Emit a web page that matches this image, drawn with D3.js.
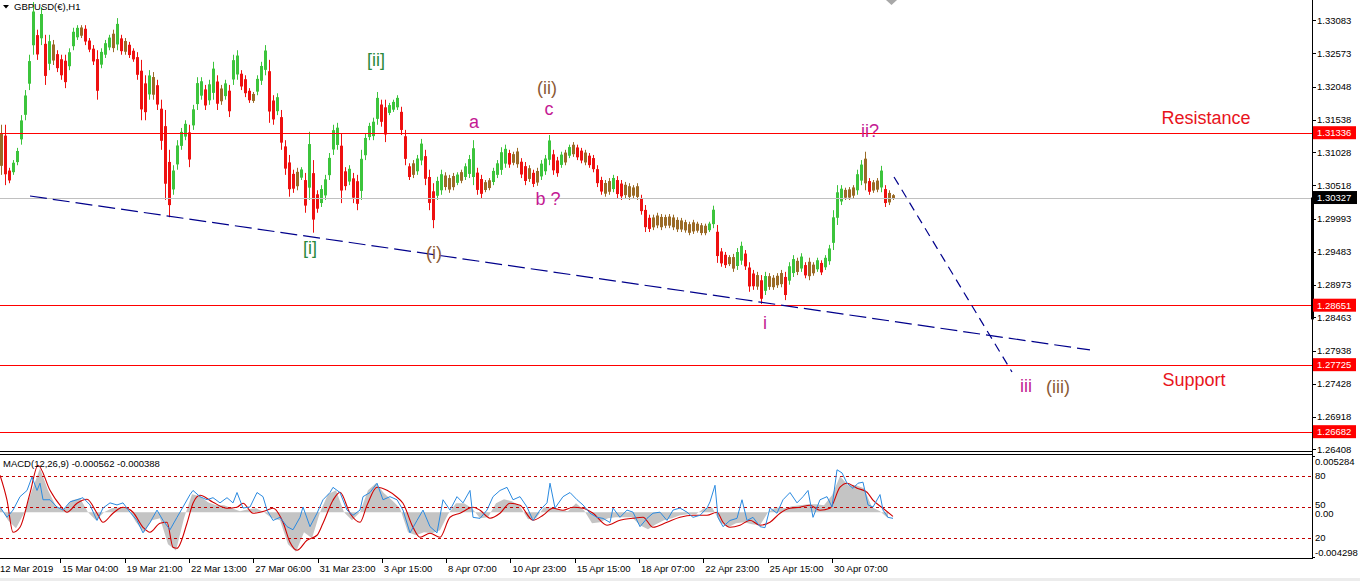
<!DOCTYPE html>
<html><head><meta charset="utf-8">
<script src="https://cdn.jsdelivr.net/npm/d3@7"></script>
<style>html,body{margin:0;padding:0;background:#fff;overflow:hidden}svg{display:block}</style>
</head><body>
<svg id="c" width="1360" height="581"></svg>
<script>
// ---------- DATA ----------
const symbolTitle = "GBPUSD(\u20AC),H1";
const macdTitle = "MACD(12,26,9) -0.000562 -0.000388";
// price columns: one per 4 hourly bars
const barStep = 4;
const highs = [
1.3146,1.3146,1.3079,1.3091,1.3110,1.3161,1.3200,1.3255,1.3337,1.3294,
1.3329,1.3286,1.3286,1.3278,1.3262,1.3255,1.3255,1.3265,1.3297,1.3301,
1.3301,1.3301,1.3281,1.3270,1.3262,1.3265,1.3278,1.3286,1.3294,1.3312,
1.3286,1.3281,1.3275,1.3265,1.3259,1.3247,1.3223,1.3231,1.3228,1.3216,
1.3185,1.3169,1.3107,1.3083,1.3122,1.3141,1.3153,1.3146,1.3177,1.3220,
1.3220,1.3208,1.3216,1.3244,1.3223,1.3208,1.3216,1.3208,1.3255,1.3262,
1.3231,1.3223,1.3203,1.3197,1.3223,1.3244,1.3270,1.3247,1.3192,1.3195,
1.3169,1.3122,1.3099,1.3076,1.3079,1.3080,1.3071,1.3135,1.3091,1.3044,
1.3052,1.3068,1.3102,1.3146,1.3149,1.3133,1.3080,1.3083,1.3071,1.3068,
1.3107,1.3133,1.3149,1.3157,1.3197,1.3185,1.3185,1.3180,1.3185,1.3192,
1.3174,1.3138,1.3086,1.3091,1.3099,1.3124,1.3107,1.3076,1.3055,1.3065,
1.3076,1.3072,1.3068,1.3071,1.3072,1.3076,1.3086,1.3099,1.3122,1.3079,
1.3068,1.3060,1.3063,1.3079,1.3091,1.3111,1.3115,1.3107,1.3104,1.3110,
1.3094,1.3088,1.3083,1.3076,1.3079,1.3091,1.3099,1.3130,1.3107,1.3096,
1.3104,1.3107,1.3115,1.3119,1.3115,1.3110,1.3107,1.3102,1.3099,1.3083,
1.3065,1.3060,1.3063,1.3068,1.3066,1.3060,1.3057,1.3055,1.3052,1.3055,
1.3037,1.3021,1.3006,1.3006,1.3009,1.3007,1.3006,1.3007,1.3006,1.3002,
1.3001,1.2998,1.2995,1.2998,1.2995,1.2993,1.2992,1.2995,1.3020,1.2990,
1.2954,1.2948,1.2943,1.2945,1.2954,1.2964,1.2951,1.2932,1.2920,1.2917,
1.2912,1.2917,1.2915,1.2912,1.2915,1.2920,1.2917,1.2932,1.2943,1.2939,
1.2946,1.2932,1.2939,1.2932,1.2939,1.2935,1.2943,1.2959,1.3013,1.3052,
1.3052,1.3048,1.3049,1.3052,1.3076,1.3091,1.3104,1.3063,1.3060,1.3063,
1.3082,1.3052,1.3044,1.3038];
const lows = [
1.3068,1.3052,1.3055,1.3068,1.3083,1.3115,1.3153,1.3200,1.3255,1.3247,
1.3270,1.3208,1.3231,1.3239,1.3228,1.3216,1.3203,1.3231,1.3262,1.3278,
1.3281,1.3270,1.3259,1.3239,1.3185,1.3234,1.3250,1.3262,1.3259,1.3262,
1.3255,1.3255,1.3250,1.3244,1.3216,1.3153,1.3153,1.3185,1.3185,1.3169,
1.3107,1.3029,1.3002,1.3037,1.3076,1.3107,1.3122,1.3080,1.3138,1.3169,
1.3185,1.3169,1.3177,1.3185,1.3169,1.3177,1.3185,1.3158,1.3208,1.3216,
1.3200,1.3189,1.3180,1.3180,1.3192,1.3208,1.3223,1.3149,1.3146,1.3161,
1.3107,1.3068,1.3034,1.3040,1.3044,1.3060,1.3009,1.3029,1.2978,1.3009,
1.3018,1.3029,1.3060,1.3099,1.3107,1.3024,1.3044,1.3052,1.3024,1.3013,
1.3029,1.3091,1.3122,1.3122,1.3146,1.3143,1.3119,1.3161,1.3166,1.3169,
1.3130,1.3083,1.3060,1.3063,1.3068,1.3083,1.3052,1.3013,1.2985,1.3029,
1.3037,1.3044,1.3040,1.3044,1.3052,1.3055,1.3060,1.3063,1.3052,1.3037,
1.3032,1.3041,1.3044,1.3052,1.3063,1.3068,1.3079,1.3079,1.3083,1.3079,
1.3063,1.3052,1.3057,1.3049,1.3051,1.3060,1.3068,1.3083,1.3068,1.3065,
1.3079,1.3083,1.3094,1.3096,1.3091,1.3086,1.3083,1.3079,1.3072,1.3049,
1.3037,1.3034,1.3037,1.3041,1.3032,1.3029,1.3032,1.3029,1.3032,1.3029,
1.3006,1.2979,1.2979,1.2982,1.2985,1.2982,1.2985,1.2985,1.2982,1.2979,
1.2979,1.2978,1.2974,1.2976,1.2978,1.2974,1.2974,1.2979,1.2985,1.2931,
1.2925,1.2923,1.2926,1.2917,1.2920,1.2928,1.2920,1.2886,1.2889,1.2889,
1.2867,1.2881,1.2889,1.2889,1.2892,1.2893,1.2873,1.2897,1.2909,1.2912,
1.2917,1.2907,1.2904,1.2911,1.2917,1.2912,1.2920,1.2928,1.2951,1.2990,
1.3021,1.3029,1.3029,1.3032,1.3037,1.3052,1.3044,1.3037,1.3040,1.3041,
1.3041,1.3018,1.3021,1.3029];

const priceTicks = [1.33083,1.32573,1.32048,1.31538,1.31028,1.30518,1.29993,1.29483,1.28973,1.28463,1.27938,1.27428,1.26918,1.26408];
const levelPrices = [1.31336,1.28651,1.27725,1.26682];
const lastPrice = 1.30327;
const marketBand = [1.28430,1.30327];

const timeLabels = ["12 Mar 2019","15 Mar 04:00","19 Mar 21:00","22 Mar 13:00","27 Mar 06:00","31 Mar 23:00","3 Apr 15:00","8 Apr 07:00","10 Apr 23:00","15 Apr 15:00","18 Apr 07:00","22 Apr 23:00","25 Apr 15:00","30 Apr 07:00"];

const supportLineBars = [30,1090];
const supportLinePrices = [1.30351,1.27954];
const projLineBars = [894,1012];
const projLinePrices = [1.30647,1.27611];

const waveText  = ["[ii]","[i]","(ii)","c","a","b ?","(i)","ii?","i","iii","(iii)","Resistance","Support"];
const waveBar   = [376,310,547,549,474,548,434,870,765,1026,1058,1206,1194];
const wavePrice = [1.32375,1.29448,1.31939,1.31612,1.31409,1.30211,1.29370,1.31269,1.28280,1.27300,1.27284,1.31472,1.27393];
const waveKind  = ["g","g","b","m","m","m","b","m","m","m","b","r","r"];

// MACD histogram every 8 bars
const histStep = 8;
const histValues = [
0.00056,-0.00075,-0.0015,-0.00009,0.00207,0.00414,0.00207,0.00056,0.00028,0.00113,
0.00132,0,-0.00075,0,0.00038,0.00047,0.00038,-0.00094,-0.00188,-0.00075,
-0.00056,-0.0030,-0.0036,-0.00056,0.00169,0.0015,0.00094,0.00066,0.00066,0.00038,
0.00009,0.00028,0.00038,0,-0.00056,-0.00075,-0.0030,-0.0037,-0.00188,-0.00244,
0,0.00169,0.00207,0,-0.00075,0,0.00207,0.00273,0.00179,0.00113,
0.00038,-0.00188,-0.00216,-0.00188,-0.00197,-0.00169,-0.00019,0.00085,0.00085,0.00038,
-0.00056,-0.00047,0.00085,0.00122,0.00103,0.00056,-0.00066,-0.00056,0.00047,0.00047,
0.00019,0.00009,0.00085,0.00019,-0.00103,-0.00094,-0.00056,-0.00047,-0.00047,-0.00047,
-0.00122,-0.0016,-0.00113,-0.00075,-0.00056,-0.00028,-0.00019,-0.00019,0.00038,0.00047,
-0.00094,-0.00141,-0.00103,-0.00094,-0.00113,-0.00122,0,0.00047,0.00038,0.00056,
0.00066,0.00075,0.00075,0.00066,0.0016,0.00338,0.00254,0.00254,0.00226,0.00047,
0.00009,-0.00056];
const macdRange = [-0.004298,0.005284];
const signalBars = [0,7,13,20,30,38,50,60,67,77,87,97,103,113,123,133,143,150,160,167,173,177,187,193,200,213,227,237,243,253,267,273,283,290,297,307,317,323,333,340,350,360,367,377,387,397,403,413,420,430,440,450,460,473,480,490,500,510,520,533,543,553,563,573,583,593,607,620,633,643,653,667,680,693,707,717,723,730,740,750,760,770,780,790,800,810,820,830,840,847,857,867,873,883,893];
const signalValues = [0.00348,0.00113,-0.00188,-0.00141,0.00179,0.00442,0.00207,0.00066,0,0.00085,0.00122,-0.00009,-0.00094,-0.00009,0.00047,0,-0.00141,-0.00188,-0.00103,-0.00094,-0.00329,-0.00338,-0.00103,0.00085,0.0016,0.00094,0.00038,0.00047,0.00085,-0.00009,0.00019,0.00038,-0.00094,-0.00282,-0.00357,-0.00263,-0.00216,-0.00103,0.00113,0.00188,-0.00009,-0.00094,0.00066,0.00235,0.00207,0.00141,0.00085,-0.00141,-0.00235,-0.00197,-0.00235,-0.00047,-0.00009,0.00047,0.00019,-0.00056,-0.00009,0.00085,0.00066,-0.00075,-0.00028,0.00038,0.00019,0.00047,0.00038,-0.00009,-0.00122,-0.00075,-0.00056,-0.00047,-0.00141,-0.00094,-0.00047,-0.00028,-0.00028,0,-0.00094,-0.00141,-0.00122,-0.00075,-0.00122,-0.00094,-0.00009,0.00038,0.00047,0.00066,0.00019,0.00038,0.00235,0.00273,0.00226,0.00188,0.00113,0.00038,-0.00039];
const oscBars = [0,7,13,20,27,32,37,40,43,50,57,63,70,77,83,90,97,103,110,117,123,130,137,143,150,157,163,170,177,183,190,193,200,207,213,220,227,233,237,243,250,257,263,267,273,280,287,293,300,303,310,317,323,330,333,340,347,353,360,363,370,377,383,390,397,403,410,417,423,430,437,443,450,457,463,470,473,480,487,493,500,507,513,520,527,533,540,547,550,555,563,570,577,583,590,597,603,610,613,620,627,633,640,647,653,660,667,673,680,687,693,700,707,710,715,718,723,730,737,742,747,753,760,765,770,777,783,790,797,803,808,813,820,827,832,837,842,847,853,858,863,868,873,880,883,888,893];
const oscValues = [50,40,47,60,66,79,66,73,57,57,50,47,55,57,59,52,37,49,54,52,54,45,37,25,35,47,37,28,40,50,62,66,60,57,59,54,59,54,64,49,50,64,60,47,37,40,31,28,40,50,31,44,57,64,69,64,47,42,47,60,64,73,57,60,57,47,25,37,47,31,25,57,47,60,54,66,40,39,47,60,66,69,57,60,50,37,47,54,73,49,60,64,57,52,44,40,39,35,49,40,47,45,31,39,44,45,37,47,49,45,40,42,49,55,71,40,31,37,39,57,37,40,31,30,49,44,57,64,54,60,66,40,57,60,50,86,83,73,68,73,74,52,50,62,47,40,39];
const oscLevels = [80,50,20];

// ---------- DRAW ----------
const FONT = "'Liberation Sans', Arial, sans-serif";
const svg = d3.select("#c");
const axisX = 1312;
const xs = d3.scaleLinear().domain([0,1312]).range([0,1312]);
const yp = d3.scaleLinear().domain([1.26350,1.33402]).range([453,0]);
const ym = d3.scaleLinear().domain(macdRange).range([558,456]);
const yo = d3.scaleLinear().domain([0,100]).range([558.7,455.3]);

svg.append("rect").attr("width",1360).attr("height",581).attr("fill","#fff");

const defs = svg.append("defs");
defs.append("clipPath").attr("id","mainClip").append("rect").attr("x",0).attr("y",0).attr("width",axisX).attr("height",451);
defs.append("clipPath").attr("id","macdClip").append("rect").attr("x",0).attr("y",455).attr("width",axisX).attr("height",103);

const main = svg.append("g").attr("clip-path","url(#mainClip)");

const mids = highs.map((h,i)=>(h+lows[i])/2);
const colGreen="#3cc43c", colRed="#ee1010", colBrown="#9a6a26";
function barColor(i){
  if(i===0) return colBrown;
  const d = mids[i]-mids[i-1];
  if(d>0.0004) return colGreen;
  if(d<-0.0004) return colRed;
  return colBrown;
}
const cg = main.append("g");
cg.selectAll("rect.w").data(highs).join("rect").attr("class","w")
  .attr("x",(d,i)=>xs(i*barStep)+1)
  .attr("width",1)
  .attr("y",d=>yp(d))
  .attr("height",(d,i)=>Math.max(1,yp(lows[i])-yp(d)))
  .attr("fill",(d,i)=>barColor(i));
cg.selectAll("rect.b").data(highs).join("rect").attr("class","b")
  .attr("x",(d,i)=>xs(i*barStep))
  .attr("width",3)
  .attr("y",(d,i)=>{const t=yp(d), b=yp(lows[i]); return t+(b-t)*0.18;})
  .attr("height",(d,i)=>{const t=yp(d), b=yp(lows[i]); return Math.max(1,(b-t)*0.64);})
  .attr("fill",(d,i)=>barColor(i));

main.append("line").attr("x1",0).attr("x2",axisX).attr("y1",Math.round(yp(lastPrice))+0.5).attr("y2",Math.round(yp(lastPrice))+0.5)
  .attr("stroke","#c0c0c0").attr("stroke-width",1);
main.selectAll("line.lvl").data(levelPrices).join("line").attr("class","lvl")
  .attr("x1",0).attr("x2",axisX)
  .attr("y1",d=>Math.round(yp(d))+0.5).attr("y2",d=>Math.round(yp(d))+0.5)
  .attr("stroke","#ff0000").attr("stroke-width",1);

const tl = d3.line().x(d=>xs(d[0])).y(d=>yp(d[1]));
main.append("path").attr("d",tl(supportLineBars.map((b,i)=>[b,supportLinePrices[i]])))
  .attr("fill","none").attr("stroke","#00008b").attr("stroke-width",1.2).attr("stroke-dasharray","17,6");
main.append("path").attr("d",tl(projLineBars.map((b,i)=>[b,projLinePrices[i]])))
  .attr("fill","none").attr("stroke","#00008b").attr("stroke-width",1.2).attr("stroke-dasharray","9,6");

const kindColor = {g:"#2b8a3e", b:"#8b5a35", m:"#c41a94", r:"#e8141c"};
main.append("g").selectAll("text").data(waveText).join("text")
  .attr("x",(d,i)=>xs(waveBar[i])).attr("y",(d,i)=>yp(wavePrice[i]))
  .attr("text-anchor","middle").attr("font-family",FONT).attr("font-size",18)
  .attr("fill",(d,i)=>kindColor[waveKind[i]]).text(d=>d);

svg.append("path").attr("d","M3,5 L9,5 L6,8.5 Z").attr("fill","#000");
svg.append("text").attr("x",14).attr("y",10).attr("font-family",FONT).attr("font-size",9.5).attr("fill","#000").text(symbolTitle);
svg.append("path").attr("d","M886,0 L897,0 L891.5,5 Z").attr("fill","#a8a8a8");

svg.append("line").attr("x1",0).attr("x2",axisX).attr("y1",451.5).attr("y2",451.5).attr("stroke","#000");
svg.append("line").attr("x1",0).attr("x2",axisX).attr("y1",454.5).attr("y2",454.5).attr("stroke","#000");
svg.append("line").attr("x1",0).attr("x2",axisX).attr("y1",558.5).attr("y2",558.5).attr("stroke","#000");
svg.append("line").attr("x1",axisX+0.5).attr("x2",axisX+0.5).attr("y1",0).attr("y2",559).attr("stroke","#000");

svg.append("rect").attr("x",axisX-1).attr("width",3).attr("y",yp(marketBand[1])).attr("height",yp(marketBand[0])-yp(marketBand[1])).attr("fill","#000");

const pa = svg.append("g");
pa.selectAll("line").data(priceTicks).join("line")
  .attr("x1",axisX).attr("x2",axisX+4).attr("y1",d=>Math.round(yp(d))+0.5).attr("y2",d=>Math.round(yp(d))+0.5).attr("stroke","#000");
pa.selectAll("text").data(priceTicks).join("text")
  .attr("x",axisX+5).attr("y",d=>yp(d)).attr("dy","0.35em")
  .attr("font-family",FONT).attr("font-size",9.5).attr("fill","#000").text(d=>d.toFixed(5));

const ll = svg.append("g");
ll.selectAll("rect").data(levelPrices).join("rect")
  .attr("x",axisX+1).attr("width",43).attr("y",d=>yp(d)-6.5).attr("height",13).attr("fill","#ff0000");
ll.selectAll("text").data(levelPrices).join("text")
  .attr("x",axisX+5).attr("y",d=>yp(d)).attr("dy","0.35em")
  .attr("font-family",FONT).attr("font-size",9.5).attr("fill","#fff").text(d=>d.toFixed(5));
svg.append("rect").attr("x",axisX+1).attr("width",44).attr("y",yp(lastPrice)-6.5).attr("height",13).attr("fill","#000");
svg.append("text").attr("x",axisX+5).attr("y",yp(lastPrice)).attr("dy","0.35em")
  .attr("font-family",FONT).attr("font-size",9.5).attr("fill","#fff").text(lastPrice.toFixed(5));

const mg = svg.append("g").attr("clip-path","url(#macdClip)");
const histData = histValues.map((v,i)=>[i*histStep,v]);
mg.append("path").datum(histData)
  .attr("d",d3.area().x(d=>xs(d[0])).y0(ym(0)).y1(d=>ym(d[1])))
  .attr("fill","#c4c4c4");
mg.selectAll("line.lv").data(oscLevels).join("line").attr("class","lv")
  .attr("x1",0).attr("x2",axisX).attr("y1",d=>Math.round(yo(d))+0.5).attr("y2",d=>Math.round(yo(d))+0.5)
  .attr("stroke","#c00000").attr("stroke-dasharray","3,3");
mg.append("path").datum(signalBars.map((b,i)=>[b,signalValues[i]]))
  .attr("d",d3.line().x(d=>xs(d[0])).y(d=>ym(d[1])).curve(d3.curveMonotoneX))
  .attr("fill","none").attr("stroke","#d00000").attr("stroke-width",1.1);
mg.append("path").datum(oscBars.map((b,i)=>[b,oscValues[i]]))
  .attr("d",d3.line().x(d=>xs(d[0])).y(d=>yo(d[1])))
  .attr("fill","none").attr("stroke","#2a8ae0").attr("stroke-width",1);

svg.append("text").attr("x",3).attr("y",467).attr("font-family",FONT).attr("font-size",9.5).attr("fill","#000").text(macdTitle);

const mr = svg.append("g").attr("font-family",FONT).attr("font-size",9.5).attr("fill","#000");
mr.append("text").attr("x",axisX+3).attr("y",ym(macdRange[1])+6).attr("dy","0.35em").text(macdRange[1].toFixed(6));
mr.append("text").attr("x",axisX+3).attr("y",ym(0)+1).attr("dy","0.35em").text("0.00");
mr.append("text").attr("x",axisX+3).attr("y",ym(macdRange[0])-5).attr("dy","0.35em").text(macdRange[0].toFixed(6));
mr.selectAll("text.o").data(oscLevels).join("text").attr("class","o")
  .attr("x",axisX+3).attr("y",d=>d===50?yo(d)-2:yo(d)).attr("dy","0.35em").text(d=>d);
svg.append("line").attr("x1",axisX).attr("x2",axisX+3).attr("y1",456.5).attr("y2",456.5).attr("stroke","#000");
svg.append("line").attr("x1",axisX).attr("x2",axisX+3).attr("y1",557.5).attr("y2",557.5).attr("stroke","#000");

const ta = svg.append("g");
const tickBars = timeLabels.map((t,k)=>-4+64.3*k);
ta.selectAll("line").data(tickBars).join("line")
  .attr("x1",d=>Math.round(xs(d))+0.5).attr("x2",d=>Math.round(xs(d))+0.5).attr("y1",559).attr("y2",563).attr("stroke","#000");
ta.selectAll("text").data(timeLabels).join("text")
  .attr("x",(d,k)=>Math.max(0,xs(tickBars[k])+2)).attr("y",572)
  .attr("font-family",FONT).attr("font-size",9.5).attr("fill","#000").text(d=>d);

svg.append("rect").attr("x",0).attr("y",578).attr("width",1360).attr("height",3).attr("fill","#ececec");
</script>
</body></html>
